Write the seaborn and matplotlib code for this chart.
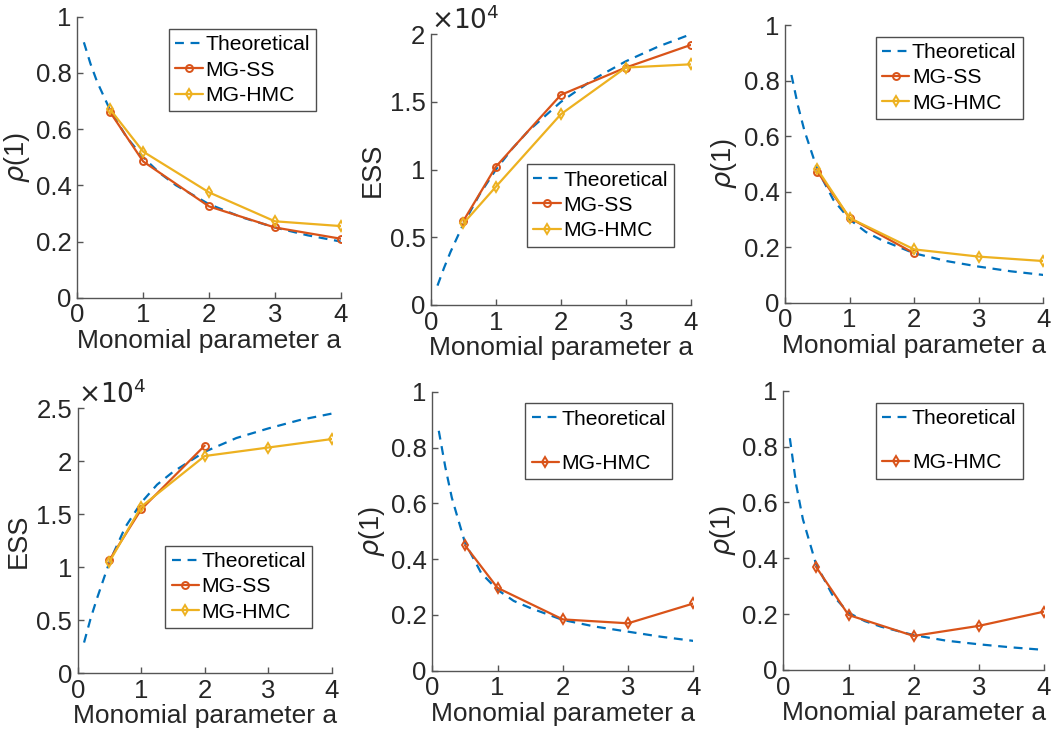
import matplotlib
matplotlib.use("Agg")
import matplotlib.pyplot as plt
import seaborn as sns
import numpy as np

# ---------------- data ----------------
a_theory = [0.1, 0.2, 0.3, 0.5, 0.75, 1.0, 1.25, 1.5, 2.0, 2.5, 3.0, 3.5, 4.0]
a_exp = [0.5, 1, 2, 3, 4]
a_exp_short = [0.5, 1, 2]

# panel 1 (rho)
p1_theory = [0.909, 0.833, 0.769, 0.667, 0.571, 0.5, 0.444, 0.4, 0.333, 0.286, 0.25, 0.222, 0.2]
p1_ss = [0.66, 0.485, 0.325, 0.25, 0.21]
p1_hmc = [0.67, 0.52, 0.375, 0.272, 0.255]

# panel 2 (ESS, x1e4)
p2_theory = [0.143, 0.273, 0.391, 0.6, 0.818, 1.0, 1.154, 1.286, 1.5, 1.667, 1.8, 1.909, 2.0]
p2_ss = [0.622, 1.022, 1.552, 1.754, 1.921]
p2_hmc = [0.603, 0.874, 1.409, 1.754, 1.778]

# panel 3 (rho)
p3_theory = [0.82, 0.71, 0.62, 0.48, 0.37, 0.30, 0.255, 0.225, 0.178, 0.15, 0.13, 0.113, 0.10]
p3_ss = [0.472, 0.305, 0.178]
p3_hmc = [0.481, 0.305, 0.192, 0.166, 0.150]

# panel 4 (ESS, x1e4)
p4_theory = [0.29, 0.51, 0.70, 1.05, 1.38, 1.61, 1.78, 1.90, 2.09, 2.22, 2.31, 2.39, 2.45]
p4_ss = [1.07, 1.547, 2.148]
p4_hmc = [1.053, 1.572, 2.05, 2.13, 2.21]

# panel 5 (rho)
p5_theory = [0.86, 0.73, 0.62, 0.46, 0.35, 0.29, 0.25, 0.225, 0.182, 0.158, 0.14, 0.122, 0.107]
p5_hmc = [0.45, 0.297, 0.184, 0.17, 0.241]

# panel 6 (rho)
p6_theory = [0.83, 0.66, 0.54, 0.38, 0.27, 0.205, 0.175, 0.155, 0.125, 0.105, 0.092, 0.081, 0.072]
p6_hmc = [0.37, 0.197, 0.122, 0.158, 0.209]

xlabel = "Monomial parameter a"
rho_label = r"$\rho$(1)"
ess_label = "ESS"

BLUE = "#0072BD"
RED = "#D95319"
YELLOW = "#EDB120"

# ---------------- style ----------------
sns.set_style("ticks")
plt.rcParams["font.family"] = ["Liberation Sans", "DejaVu Sans"]
plt.rcParams["mathtext.fontset"] = "dejavusans"
plt.rcParams["xtick.direction"] = "in"
plt.rcParams["ytick.direction"] = "in"
TXT = "#262626"
AX = "#555555"

fig = plt.figure(figsize=(10.53, 7.34), dpi=100)

positions = [
    [0.0734, 0.5944, 0.2501, 0.3828],
    [0.4093, 0.5845, 0.2466, 0.3688],
    [0.7455, 0.5876, 0.2453, 0.3783],
    [0.0738, 0.0827, 0.2412, 0.3610],
    [0.4105, 0.0862, 0.2479, 0.3801],
    [0.7439, 0.0872, 0.2476, 0.3805],
]

panels = [
    dict(theory=p1_theory, series=[("MG-SS", a_exp, p1_ss, RED, "o"), ("MG-HMC", a_exp, p1_hmc, YELLOW, "d")],
         ylim=(0, 1), yticks=[0, 0.2, 0.4, 0.6, 0.8, 1], ylabels=["0", "0.2", "0.4", "0.6", "0.8", "1"],
         ylabel=rho_label, leg=(0.906, 0.956), spacing=0.3, sci=False),
    dict(theory=p2_theory, series=[("MG-SS", a_exp, p2_ss, RED, "o"), ("MG-HMC", a_exp, p2_hmc, YELLOW, "d")],
         ylim=(0, 2), yticks=[0, 0.5, 1, 1.5, 2], ylabels=["0", "0.5", "1", "1.5", "2"],
         ylabel=ess_label, leg=(0.936, 0.52), spacing=0.3, sci=True),
    dict(theory=p3_theory, series=[("MG-SS", a_exp_short, p3_ss, RED, "o"), ("MG-HMC", a_exp, p3_hmc, YELLOW, "d")],
         ylim=(0, 1), yticks=[0, 0.2, 0.4, 0.6, 0.8, 1], ylabels=["0", "0.2", "0.4", "0.6", "0.8", "1"],
         ylabel=rho_label, leg=(0.92, 0.958), spacing=0.3, sci=False),
    dict(theory=p4_theory, series=[("MG-SS", a_exp_short, p4_ss, RED, "o"), ("MG-HMC", a_exp, p4_hmc, YELLOW, "d")],
         ylim=(0, 2.5), yticks=[0, 0.5, 1, 1.5, 2, 2.5], ylabels=["0", "0.5", "1", "1.5", "2", "2.5"],
         ylabel=ess_label, leg=(0.924, 0.4815), spacing=0.3, sci=True),
    dict(theory=p5_theory, series=[("MG-HMC", a_exp, p5_hmc, RED, "d")],
         ylim=(0, 1), yticks=[0, 0.2, 0.4, 0.6, 0.8, 1], ylabels=["0", "0.2", "0.4", "0.6", "0.8", "1"],
         ylabel=rho_label, leg=(0.92, 0.958), spacing=1.2, sci=False),
    dict(theory=p6_theory, series=[("MG-HMC", a_exp, p6_hmc, RED, "d")],
         ylim=(0, 1), yticks=[0, 0.2, 0.4, 0.6, 0.8, 1], ylabels=["0", "0.2", "0.4", "0.6", "0.8", "1"],
         ylabel=rho_label, leg=(0.918, 0.957), spacing=1.2, sci=False),
]

for pos, p in zip(positions, panels):
    ax = fig.add_axes(pos)
    sns.lineplot(x=a_theory, y=p["theory"], ax=ax, color=BLUE, lw=1.6,
                 linestyle=(0, (4, 3)), label="Theoretical")
    for name, xs, ys, col, mk in p["series"]:
        sns.lineplot(x=xs, y=ys, ax=ax, color=col, lw=1.6, marker=mk,
                     markersize=5, markerfacecolor="none", markeredgecolor=col,
                     markeredgewidth=1.4, label=name)
    ax.set_xlim(0, 4)
    ax.set_ylim(*p["ylim"])
    ax.set_xticks([0, 1, 2, 3, 4])
    ax.set_xticklabels(["0", "1", "2", "3", "4"])
    ax.set_yticks(p["yticks"])
    ax.set_yticklabels(p["ylabels"])
    ax.tick_params(labelsize=18.5, colors=AX, labelcolor=TXT, length=4, width=1, pad=4)
    ax.set_xlabel(xlabel, fontsize=19, color=TXT, labelpad=1)
    ax.set_ylabel(p["ylabel"], fontsize=19.5, color=TXT, labelpad=3)
    for s in ["top", "right"]:
        ax.spines[s].set_visible(False)
    for s in ["left", "bottom"]:
        ax.spines[s].set_color(AX)
        ax.spines[s].set_linewidth(1.0)
    if p["sci"]:
        ax.text(0.0, 1.0, r"$\times10^{4}$", transform=ax.transAxes,
                ha="left", va="bottom", fontsize=19, color=TXT)
    leg = ax.legend(loc="upper right", bbox_to_anchor=p["leg"], fontsize=15.2,
                    frameon=True, fancybox=False, edgecolor="#222222",
                    handlelength=1.3, handletextpad=0.12, borderpad=0.3,
                    labelspacing=p["spacing"], borderaxespad=0.0)
    leg._legend_box.sep = 2
    leg.get_frame().set_linewidth(1.0)
    for t in leg.get_texts():
        t.set_color("black")

fig.savefig("out.png", dpi=100)
